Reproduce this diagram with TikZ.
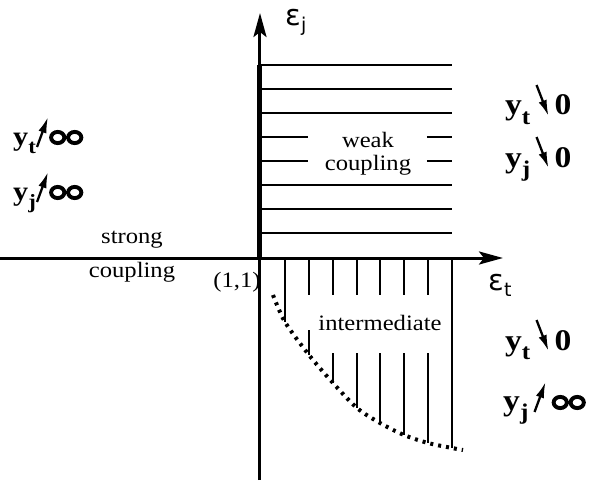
\documentclass[tikz,border=0pt]{standalone}
\usepackage{fontspec}
\setmainfont{Liberation Serif}[FakeStretch=1.12]
\newfontfamily\greek{DejaVu Sans}
\usetikzlibrary{arrows.meta}

\tikzset{limarrow/.style={line width=2.3pt,-{Latex[length=16pt,width=8.5pt]}}}
\newcommand{\sub}[1]{\raisebox{-0.3em}{\scalebox{0.75}{#1}}}
\newcommand{\upar}{\tikz[baseline=0pt]\draw[limarrow] (0pt,-2pt) -- (11pt,28pt);}
\newcommand{\dnar}{\tikz[baseline=0pt]\draw[limarrow] (0pt,30pt) -- (12pt,-1pt);}
\newcommand{\infsym}{\tikz[baseline=0pt]\draw[line width=3.9pt]
  (8.5pt,7.5pt) ellipse [x radius=6.6pt, y radius=5.6pt]
  (25.5pt,7.5pt) ellipse [x radius=6.6pt, y radius=5.6pt];}
\newcommand{\eps}[1]{{\greek\fontsize{29}{30}\selectfont ε%
  \raisebox{-0.2em}{\fontsize{19}{20}\selectfont #1}}}

\begin{document}
\begin{tikzpicture}[x=1pt,y=1pt,
  axis/.style={line width=3pt,-{Stealth[length=24pt,width=13pt,inset=5pt]}},
  hatch/.style={line width=1.2pt},
  lbl/.style={font=\fontsize{22}{23}\selectfont, inner sep=0pt},
  limsmall/.style={font=\fontsize{27}{29}\selectfont\bfseries, inner sep=0pt, anchor=base west},
  limbig/.style={font=\fontsize{30}{32}\selectfont\bfseries, inner sep=0pt, anchor=base west}
]
\useasboundingbox[fill=white] (-260,-238) rectangle (338,258);

% axes
\coordinate (O) at (0,0);
\coordinate (xl) at (-260,0);
\coordinate (xr) at (243,0);
\coordinate (yb) at (0,-222);
\coordinate (yt) at (0,245);
\coordinate (ytop) at (0,193);
\draw[axis] (xl) -- (xr);
\draw[line width=3pt] (yb) -- (O);
\draw[axis] (O) -- (yt);
\draw[line width=5pt] (O) -- (ytop);

% weak coupling region
\foreach \y in {25,49,73,145,169,193}
  \draw[hatch] (0,\y) -- (192,\y);
\foreach \y in {97,121}
  \draw[hatch] (0,\y) -- (48,\y) (167,\y) -- (192,\y);

% intermediate region
\foreach \x/\f in {25/-64,192/-190}
  \draw[hatch] (\x,0) -- (\x,\f);
\draw[hatch] (49,0) -- (49,-37) (49,-72) -- (49,-97);
\foreach \x/\f in {73/-125,97/-150,120/-165,144/-177,168/-185}
  \draw[hatch] (\x,0) -- (\x,-37) (\x,-95) -- (\x,\f);
\draw[line width=4pt, dash pattern=on 3pt off 5pt]
  plot[smooth] coordinates {(13,-37) (25,-64) (49,-97) (73,-125) (97,-150)
  (120,-165) (144,-177) (168,-185) (192,-190) (203,-192)};

% labels
\node[lbl, align=center] (weak) at (108,104) {weak\\coupling};
\node[lbl] (inter) at (120,-65) {intermediate};
\node[lbl] (strong) at (-128,18) {strong};
\node[lbl] (coupl) at (-128,-14) {coupling};
\node[lbl] (one) at (-23,-24) {(1,1)};
\node[lbl] (ej) at (36,236) {\eps{j}};
\node[lbl] (et) at (240,-27) {\eps{t}};

% limits
\node[limsmall] (ltinf) at (-247,113) {y\sub{t}\upar\infsym};
\node[limsmall] (ljinf) at (-247,58) {y\sub{j}\upar\infsym};
\node[limbig] (rtzero) at (245,143) {y\sub{t}\,\dnar\,0};
\node[limbig] (rjzero) at (245,91) {y\sub{j}\,\dnar\,0};
\node[limbig] (btzero) at (245,-92) {y\sub{t}\,\dnar\,0};
\node[limbig] (bjinf) at (243,-152) {y\sub{j}\,\upar\,\infsym};
\end{tikzpicture}
\end{document}
